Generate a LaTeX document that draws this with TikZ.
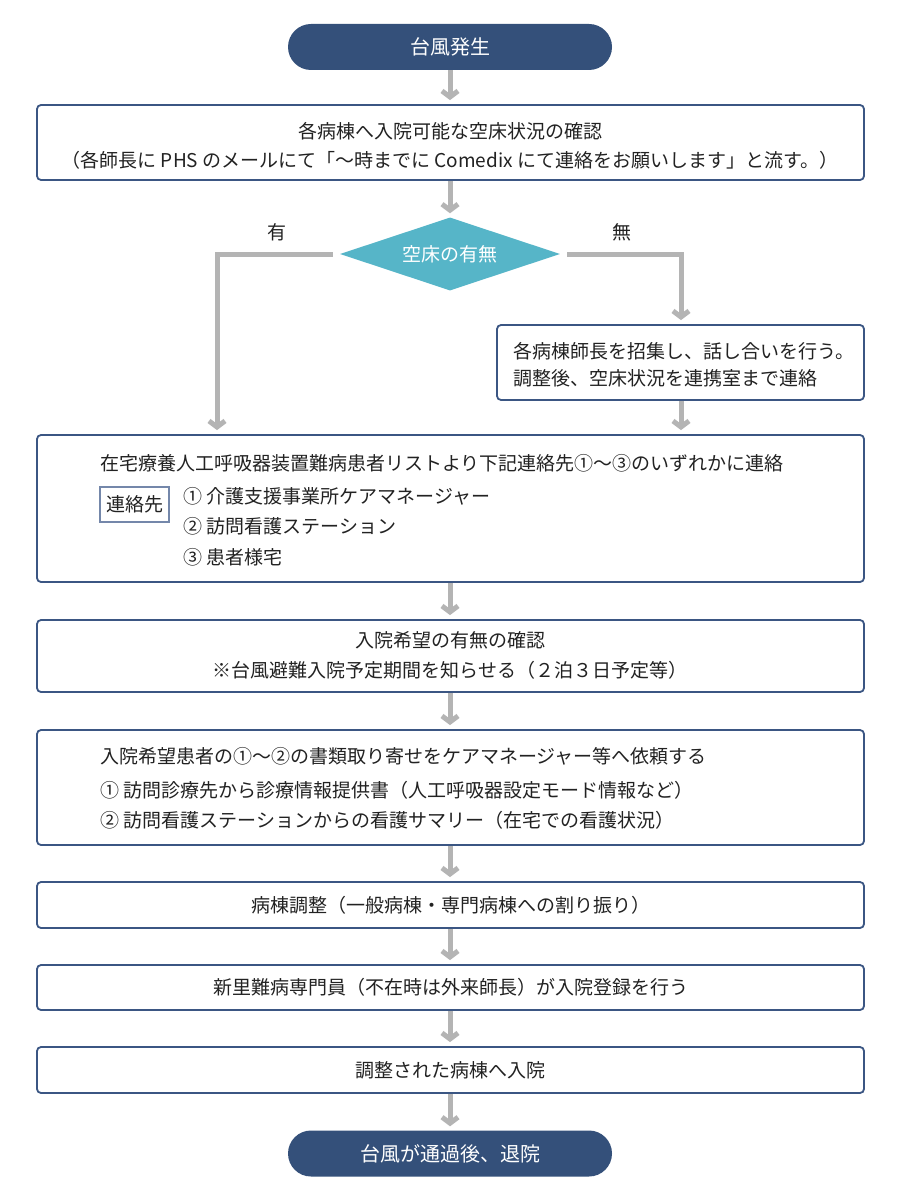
\documentclass[tikz,border=0pt]{standalone}
\usepackage{fontspec}
\setmainfont{Noto Sans CJK JP}
\usetikzlibrary{arrows.meta,shapes.geometric}
\definecolor{navy}{HTML}{34507A}
\definecolor{bord}{HTML}{3B5683}
\definecolor{teal2}{HTML}{56B5C8}
\definecolor{arrg}{HTML}{B4B4B4}
\definecolor{txt}{HTML}{222222}
\definecolor{smallbord}{HTML}{7487AA}
\newcommand\myfs[1]{\fontsize{#1}{#1}\selectfont}
\begin{document}
\begin{tikzpicture}[x=1pt,y=-1pt,
  pill/.style={rounded corners=23, fill=navy, minimum width=324, minimum height=46, inner sep=0, text=white, font=\myfs{20}},
  box/.style={draw=bord, line width=1.8, rounded corners=4, fill=white, inner sep=0},
  t/.style={text=txt, inner sep=0, font=\myfs{19}},
  dia/.style={diamond, aspect=3, fill=teal2, minimum width=220, minimum height=73, inner sep=0, text=white, font=\myfs{19}},
  arr/.style={draw=arrg, line width=5, -{Straight Barb[length=6, width=16]}, shorten >=4}]
\useasboundingbox (0,0) rectangle (900,1201);
\fill[white] (0,0) rectangle (900,1201);
\coordinate (lx) at (217,0);
\coordinate (rx) at (681,0);
% nodes
\node[pill] (start) at (450,47) {台風発生};
\node[box, minimum width=827, minimum height=75] (b1) at (450.5,142.5) {};
\node[t] (b1a) at (450,131) {各病棟へ入院可能な空床状況の確認};
\node[t] (b1b) at (450,160) {（各師長に PHS のメールにて「〜時までに Comedix にて連絡をお願いします」と流す。）};
\node[dia] (d) at (450,254) {空床の有無};
\node[t] (yes) at (277,232) {有};
\node[t] (no) at (622,232) {無};
\node[box, minimum width=367, minimum height=75] (b2) at (680.5,362.5) {};
\node[t, anchor=west] (b2a) at (513,351) {各病棟師長を招集し、話し合いを行う。};
\node[t, anchor=west] (b2b) at (513,378) {調整後、空床状況を連携室まで連絡};
\node[box, minimum width=827, minimum height=147] (b3) at (450.5,508.5) {};
\node[t, anchor=west] (b3a) at (100,463) {在宅療養人工呼吸器装置難病患者リストより下記連絡先①〜③のいずれかに連絡};
\node[draw=smallbord, line width=1.1, minimum width=69, minimum height=35, inner sep=0, text=txt, font=\myfs{19}] (ren) at (134.5,504.5) {連絡先};
\node[t, anchor=west] (i1) at (183,496) {① 介護支援事業所ケアマネージャー};
\node[t, anchor=west] (i2) at (183,526) {② 訪問看護ステーション};
\node[t, anchor=west] (i3) at (183,557) {③ 患者様宅};
\node[box, minimum width=827, minimum height=72] (b4) at (450.5,656) {};
\node[t] (b4a) at (450,640) {入院希望の有無の確認};
\node[t] (b4b) at (450,670) {※台風避難入院予定期間を知らせる（２泊３日予定等）};
\node[box, minimum width=827, minimum height=115] (b5) at (450.5,787.5) {};
\node[t, anchor=west] (b5a) at (100,756) {入院希望患者の①〜②の書類取り寄せをケアマネージャー等へ依頼する};
\node[t, anchor=west] (b5b) at (100,790) {① 訪問診療先から診療情報提供書（人工呼吸器設定モード情報など）};
\node[t, anchor=west] (b5c) at (100,820) {② 訪問看護ステーションからの看護サマリー（在宅での看護状況）};
\node[box, minimum width=827, minimum height=46, text=txt, font=\myfs{19}] (b6) at (450.5,905) {病棟調整（一般病棟・専門病棟への割り振り）};
\node[box, minimum width=827, minimum height=45, text=txt, font=\myfs{19}] (b7) at (450.5,987.5) {新里難病専門員（不在時は外来師長）が入院登録を行う};
\node[box, minimum width=827, minimum height=46, text=txt, font=\myfs{19}] (b8) at (450.5,1070) {調整された病棟へ入院};
\node[pill] (end) at (450,1153.5) {台風が通過後、退院};
% connectors
\draw[arr] (start.south) -- (start.south |- b1.north);
\draw[arr] (d.north |- b1.south) -- (d.north);
\draw[arr, shorten <=7] (d.west) -| (lx |- b3.north);
\draw[arr, shorten <=7] (d.east) -| (rx |- b2.north);
\draw[arr] (rx |- b2.south) -- (rx |- b3.north);
\draw[arr] (d.north |- b3.south) -- (d.north |- b4.north);
\draw[arr] (d.north |- b4.south) -- (d.north |- b5.north);
\draw[arr] (d.north |- b5.south) -- (d.north |- b6.north);
\draw[arr] (d.north |- b6.south) -- (d.north |- b7.north);
\draw[arr] (d.north |- b7.south) -- (d.north |- b8.north);
\draw[arr] (d.north |- b8.south) -- (end.north);
\end{tikzpicture}
\end{document}
